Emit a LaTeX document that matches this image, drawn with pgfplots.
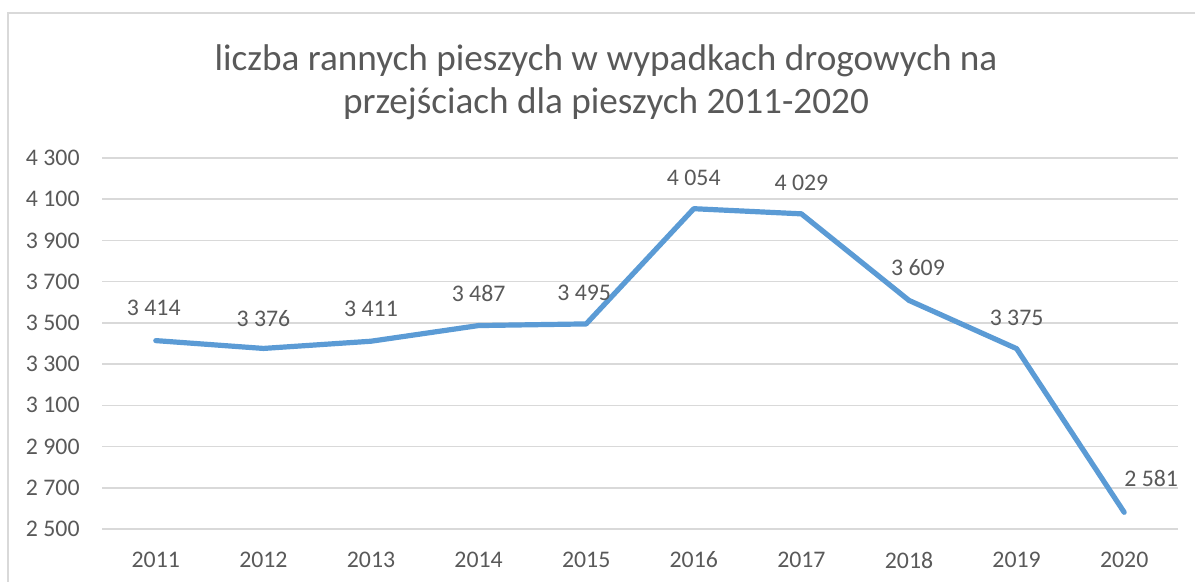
\documentclass[border=0pt]{standalone}
\usepackage{fontspec}
\setmainfont{Carlito}
\usepackage{pgfplots}
\pgfplotsset{compat=1.18}
\definecolor{linec}{HTML}{5B9BD5}
\definecolor{gridc}{HTML}{D9D9D9}
\definecolor{textc}{HTML}{595959}
\begin{document}
\begin{tikzpicture}
\path[use as bounding box] (0,0) rectangle (597.5pt,291pt);
\draw[gridc, line width=0.75pt] (4pt,0) -- (4pt,284.5pt) -- (597.5pt,284.5pt);
\node[anchor=base, text=textc, font=\fontsize{18.6}{22}\selectfont, inner sep=0pt] at (303pt,255.5pt) {liczba rannych pieszych w wypadkach drogowych na};
\node[anchor=base, text=textc, font=\fontsize{18.6}{22}\selectfont, inner sep=0pt] at (303pt,234pt) {przejściach dla pieszych 2011-2020};
\begin{axis}[
  at={(51pt,26.5pt)}, anchor=south west,
  scale only axis, width=538pt, height=185.5pt,
  xmin=-0.5, xmax=9.5, ymin=2500, ymax=4300,
  xtick={0,1,2,3,4,5,6,7,8,9},
  xticklabels={2011,2012,2013,2014,2015,2016,2017,2018,2019,2020},
  ytick={2500,2700,2900,3100,3300,3500,3700,3900,4100,4300},
  ymajorgrids, grid style={gridc, line width=0.75pt},
  axis line style={draw=none},
  major tick length=0pt,
  tick label style={font=\fontsize{11.9}{14}\selectfont, text=textc, inner sep=0pt},
  xticklabel style={anchor=center, yshift=-15.5pt},
  yticklabel style={anchor=east, xshift=-11pt},
  /pgf/number format/.cd, 1000 sep={\ }, assume math mode=true, /pgfplots/.cd,
  clip=false,
]
\addplot[linec, line width=2.6pt, line join=round, line cap=round, mark=none,
  nodes near coords, point meta=explicit,
  visualization depends on={\thisrow{dx} \as \dx},
  visualization depends on={\thisrow{dy} \as \dy},
  every node near coord/.append style={anchor=center, xshift=\dx pt, yshift=\dy pt,
    font=\fontsize{11.9}{14}\selectfont, text=textc, inner sep=0pt},
] table[x=x, y=y, meta=y] {
x y dx dy
0 3414 -1 16.5
1 3376 0 15
2 3411 0 16
3 3487 0 16
4 3495 -1 15.5
5 4054 0 15.5
6 4029 0 15.5
7 3609 4.5 16.5
8 3375 0 15.5
9 2581 13.5 17
};
\end{axis}
\end{tikzpicture}
\end{document}
